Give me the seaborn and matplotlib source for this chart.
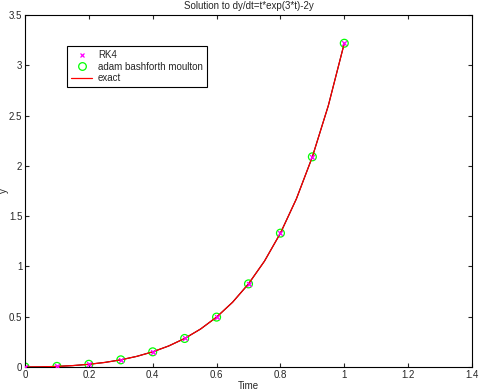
import numpy as np
import pandas as pd
import matplotlib
matplotlib.use('Agg')
import matplotlib.pyplot as plt
import seaborn as sns

# valores
t_pts = [0.0, 0.1, 0.2, 0.3, 0.4, 0.5, 0.6, 0.7, 0.8, 0.9, 1.0]
y_rk4 = [0.0, 0.0058, 0.0268, 0.0711, 0.1508, 0.2836, 0.4960, 0.8265, 1.3309, 2.0898, 3.2192]
y_abm = [0.0, 0.0058, 0.0268, 0.0711, 0.1508, 0.2836, 0.4960, 0.8265, 1.3309, 2.0898, 3.2192]

t_exact = [0.0, 0.05, 0.1, 0.15, 0.2, 0.25, 0.3, 0.35, 0.4, 0.45, 0.5,
           0.55, 0.6, 0.65, 0.7, 0.75, 0.8, 0.85, 0.9, 0.95, 1.0]
y_exact = [0.0, 0.0013, 0.0058, 0.0140, 0.0268, 0.0454, 0.0711, 0.1056, 0.1508, 0.2091, 0.2836,
           0.3778, 0.4960, 0.6435, 0.8265, 1.0526, 1.3309, 1.6722, 2.0898, 2.5992, 3.2192]

x_ticks = [0, 0.2, 0.4, 0.6, 0.8, 1, 1.2, 1.4]
x_labels = ['0', '0.2', '0.4', '0.6', '0.8', '1', '1.2', '1.4']
y_ticks = [0, 0.5, 1, 1.5, 2, 2.5, 3, 3.5]
y_labels = ['0', '0.5', '1', '1.5', '2', '2.5', '3', '3.5']

sns.set_style("ticks")
plt.rcParams['font.family'] = ['Liberation Sans', 'DejaVu Sans']
plt.rcParams['xtick.direction'] = 'in'
plt.rcParams['ytick.direction'] = 'in'

fig = plt.figure(figsize=(4.79, 3.92), dpi=100)
ax = fig.add_axes([0.0522, 0.0638, 0.9332, 0.8979])

df_exact = pd.DataFrame({'t': t_exact, 'y': y_exact})
df_pts = pd.DataFrame({'t': t_pts, 'rk4': y_rk4, 'abm': y_abm})

sns.lineplot(data=df_exact, x='t', y='y', ax=ax, color='black', lw=0.8, zorder=1)
sns.scatterplot(data=df_pts, x='t', y='abm', ax=ax, marker='o', s=32,
                facecolors='none', edgecolor='#00ff00', linewidth=0.9, zorder=2)
sns.lineplot(data=df_exact, x='t', y='y', ax=ax, color='red', lw=0.9, zorder=3)
sns.scatterplot(data=df_pts, x='t', y='rk4', ax=ax, marker='x', s=12,
                color='#ff00ff', linewidth=0.9, zorder=4)

h_rk4 = plt.Line2D([], [], ls='none', marker='x', color='#ff00ff', ms=3.2, mew=0.9)
h_abm = plt.Line2D([], [], ls='none', marker='o', mfc='none', mec='#00ff00', ms=5.5, mew=0.9)
h_ex = plt.Line2D([], [], color='red', lw=0.9)
leg = ax.legend([h_rk4, h_abm, h_ex], ['RK4', 'adam bashforth moulton', 'exact'],
                loc='upper left', bbox_to_anchor=(0.083, 0.925), fontsize=7,
                frameon=True, fancybox=False, framealpha=1, borderpad=0.4,
                labelspacing=0.15, handlelength=2.2, handletextpad=0.6)
leg.get_frame().set_edgecolor('black')
leg.get_frame().set_linewidth(0.8)

ax.set_xlim(0, 1.4)
ax.set_ylim(0, 3.5)
ax.set_xticks(x_ticks)
ax.set_xticklabels(x_labels)
ax.set_yticks(y_ticks)
ax.set_yticklabels(y_labels)
ax.tick_params(labelsize=7, length=3, width=0.8, top=True, right=True, pad=2)
for s in ax.spines.values():
    s.set_linewidth(0.8)
    s.set_color('black')

ax.set_xlabel('Time', fontsize=7, labelpad=1)
ax.set_ylabel('y', fontsize=7)
ax.yaxis.set_label_coords(-0.035, 0.5)
ax.set_title('Solution to dy/dt=t*exp(3*t)-2y', fontsize=7, pad=4)

plt.savefig('out.png', dpi=100)
